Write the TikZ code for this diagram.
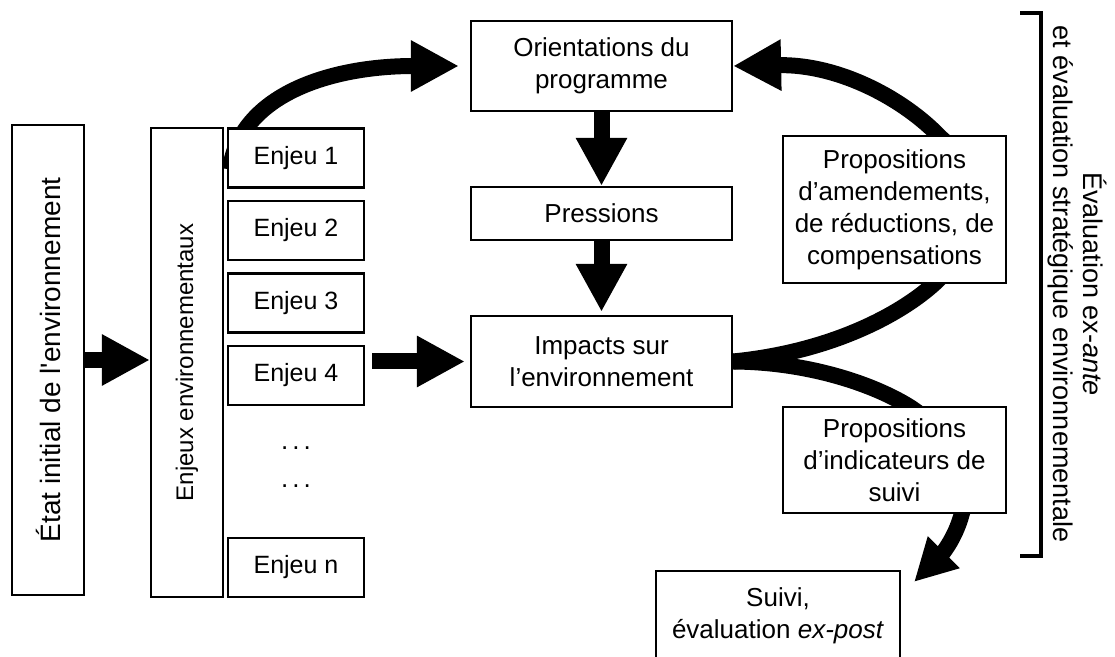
\documentclass[tikz,border=0pt]{standalone}
\usepackage{fontspec}
\setmainfont{Liberation Sans}
\usetikzlibrary{arrows.meta,calc,backgrounds}
\newcommand{\spreaddots}{.\hspace{2pt}.\hspace{2pt}.}
\begin{document}
\begin{tikzpicture}[x=0.5pt,y=-0.5pt]
\tikzstyle{mybox} = [draw, line width=1.1pt, fill=white, inner sep=0pt, align=center, font=\fontsize{13}{16}\selectfont]
\tikzstyle{enjeu} = [mybox, minimum width=68pt, minimum height=29.5pt, font=\fontsize{12.5}{15}\selectfont]
\tikzstyle{myarrow} = [line width=8pt, -{Triangle[length=24pt,width=24pt]}]
\tikzstyle{smallarrow} = [line width=8pt, -{Triangle[length=21pt,width=21pt]}]
\useasboundingbox (0,0) rectangle (1115,657);
	% left column
	\node[mybox, rotate=90, minimum width=235pt, minimum height=36pt, font=\fontsize{14}{17}\selectfont] (etat) at (48,360) {État initial de l\textquotesingle environnement};
	\node[mybox, rotate=90, minimum width=234.5pt, minimum height=36pt, font=\fontsize{12}{14}\selectfont] (env) at (187,362.5) {Enjeux environnementaux};
	\node[enjeu] (e1) at (296,158) {Enjeu 1};
	\node[enjeu] (e2) at (296,230.5) {Enjeu 2};
	\node[enjeu] (e3) at (296,303) {Enjeu 3};
	\node[enjeu] (e4) at (296,375.5) {Enjeu 4};
	\node[font=\fontsize{13}{16}\selectfont] (d1) at (296,448) {\spreaddots};
	\node[font=\fontsize{13}{16}\selectfont] (d2) at (296,486) {\spreaddots};
	\node[enjeu] (en) at (296,567.5) {Enjeu n};
	% middle column
	\node[mybox, minimum width=130.5pt, minimum height=45pt] (ori) at (601.5,66) {Orientations du\\programme};
	\node[mybox, minimum width=130.5pt, minimum height=26.5pt] (pres) at (601.5,213.5) {Pressions};
	\node[mybox, minimum width=130.5pt, minimum height=45.5pt] (imp) at (601.5,361.5) {Impacts sur\\l’environnement};
	% right column
	\node[mybox, minimum width=111.5pt, minimum height=73.5pt] (amend) at (894.5,209.5) {Propositions\\d’amendements,\\de réductions, de\\compensations};
	\node[mybox, minimum width=111.5pt, minimum height=53pt] (indic) at (894.5,460) {Propositions\\d’indicateurs de\\suivi};
	\node[mybox, minimum width=122pt, minimum height=45pt] (suivi) at (778,616) {Suivi,\\évaluation \textit{ex-post}};
	\node[rotate=-90, align=center, font=\fontsize{13.5}{15}\selectfont] (ese) at (1077,284) {Évaluation ex-\textit{ante}\\et évaluation stratégique environnementale};
	\draw[line width=2pt] (1020,13) -- (1041,13) -- (1041,556) -- (1020,556);
	% straight arrows
	\draw[myarrow] (etat) -- (etat -| env.north);
	\draw[myarrow] ($(e4.east |- imp.west)+(7,0)$) -- ($(imp.west)+(-5,0)$);
	\draw[myarrow] (ori) -- (pres);
	\draw[myarrow] (pres) -- ($(imp.north)+(0,-3)$);
	% curved arrows behind the boxes
	\begin{scope}[on background layer]
	\draw[myarrow] ($(e1.north west)+(3,42)$) .. controls (240,95) and (330,66) .. ($(ori.west)+(-11,0)$);
	\draw[myarrow] (imp.east) .. controls (830,352) and (900,315) .. (935,283)
		.. controls (980,240) and (985,175) .. (940,137)
		.. controls (905,100) and (840,64) .. (ori.east);
	\draw[smallarrow] (imp.east) .. controls (810,362) and (875,385) .. (910,407)
		.. controls (960,440) and (975,480) .. (962,513)
		.. controls (955,540) and (940,556) .. ($(suivi.north east)+(13,12)$);
	\end{scope}
\end{tikzpicture}
\end{document}
